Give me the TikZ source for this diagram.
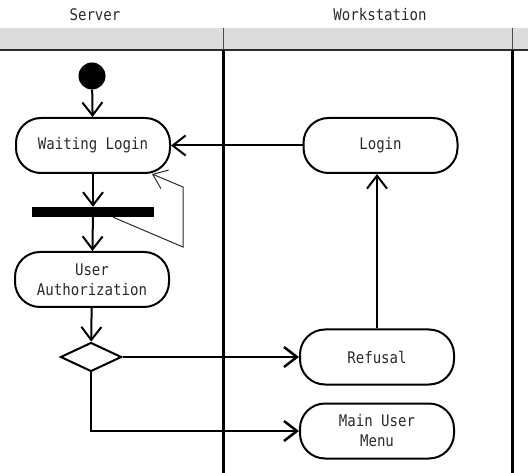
\documentclass[tikz,border=0pt]{standalone}
\usepackage{fontspec}
\newfontfamily\lanefont[FakeStretch=0.88]{DejaVu Sans Mono}
\usetikzlibrary{arrows.meta}
\usetikzlibrary{shapes.geometric}
\definecolor{bandgray}{HTML}{DCDCDC}
\definecolor{inkgray}{HTML}{2A2A2A}
\newcommand{\state}[4]{\node[state] (#1) at ( #2 , #3 ) {#4};}
\newcommand{\lane}[1]{\draw[line width=3pt] ( #1 , 50 ) -- ( #1 , 473 );}

\begin{document}
\begin{tikzpicture}[x=1pt,y=-1pt,
    state/.style={draw, line width=2pt, rounded corners=25pt, minimum width=154pt,
      minimum height=55pt, align=center, text=inkgray,
      font=\lanefont\fontsize{16}{20}\selectfont},
    lanelabel/.style={text=inkgray, font=\lanefont\fontsize{16}{20}\selectfont},
    flow/.style={line width=2pt, -{Straight Barb[length=13pt,width=20pt]}},
    thinflow/.style={line width=1pt, draw=inkgray, -{Straight Barb[length=13pt,width=20pt]}}]
        \useasboundingbox (0,0) rectangle (528,473);
        % header band
        \fill[bandgray] (0,28) rectangle (528,49);
        \draw[line width=2.5pt, inkgray] (0,50) -- (528,50);
        \draw[line width=1pt, gray!60!black] (223,28) -- (223,49);
        \draw[line width=1pt, gray!60!black] (512,28) -- (512,49);
        \node[lanelabel] (server) at (95,15) {Server};
        \node[lanelabel] (workstation) at (380,15) {Workstation};
        % lanes
        \lane{223}
        \lane{512}
        % server lane
        \node[circle, fill, inner sep=0pt, minimum size=27pt] (start) at (92,76) {};
        \state{wait}{93}{145.5}{Waiting Login}
        \node[fill, inner sep=0pt, minimum width=122pt, minimum height=10pt] (bar) at (93,212) {};
        \state{auth}{92}{279.5}{User\\Authorization}
        \node[diamond, draw, line width=2pt, inner sep=0pt, minimum width=61pt,
          minimum height=29pt] (check) at (91,357) {};
        % workstation lane
        \state{login}{380.5}{145.5}{Login}
        \state{refusal}{377}{357}{Refusal}
        \state{menu}{377}{431}{Main User\\Menu}
        % flows
        \draw[flow] (start) -- (wait);
        \draw[flow] (wait) -- (bar);
        \coordinate (loopa) at (183,247);
        \coordinate (loopb) at (183,187);
        \draw[thinflow] ([xshift=20pt]bar.south) -- (loopa) -- (loopb) -- ([xshift=59pt]wait.south);
        \draw[flow] (bar) -- (auth);
        \draw[flow] (auth) -- (check);
        \draw[flow, line width=2.5pt] (check.east) -- (refusal.west);
        \draw[flow, line width=2.5pt] (check.south) |- (menu.west);
        \draw[flow] (refusal.north) -- (refusal.north |- login.south);
        \draw[flow] (login.west) -- (wait.east);
    \end{tikzpicture}
\end{document}
